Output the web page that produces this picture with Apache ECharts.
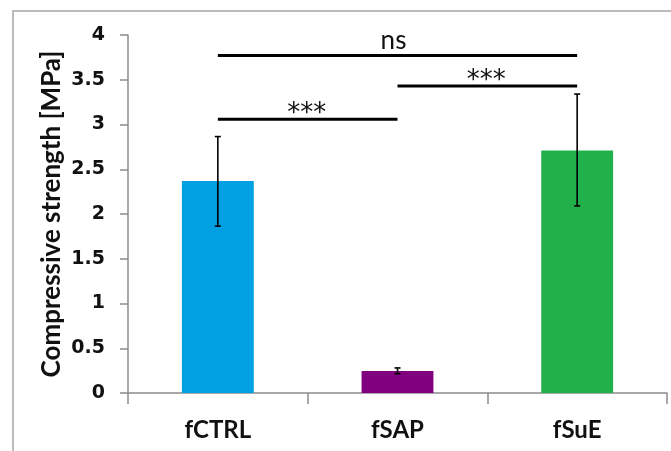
<!DOCTYPE html>
<html>
<head>
<meta charset="utf-8">
<script src="https://cdn.jsdelivr.net/npm/echarts@6/dist/echarts.min.js"></script>
<style>html,body{margin:0;padding:0;background:#fff;}#c{width:671px;height:451px;}</style>
</head>
<body>
<div id="c"></div>
<script>
const categories = ['fCTRL', 'fSAP', 'fSuE'];
const meanValues = [2.37, 0.245, 2.71];
const errLow = [1.865, 0.215, 2.09];
const errHigh = [2.865, 0.28, 3.34];
const barColors = ['#00A0E3', '#800080', '#22B04B'];
const yTicks = [0, 0.5, 1, 1.5, 2, 2.5, 3, 3.5, 4];
const bracketFrom = [0, 1, 0];
const bracketTo = [1, 2, 2];
const bracketY = [3.06, 3.43, 3.77];
const bracketLabel = ['***', '***', 'ns'];

const FONT = 'Lato, "Open Sans", sans-serif';
const chart = echarts.init(document.getElementById('c'), null, {renderer: 'canvas'});
chart.setOption({
  animation: false,
  backgroundColor: '#fff',
  graphic: [{
    type: 'rect', shape: {x: 13, y: 11, width: 720, height: 520},
    style: {fill: 'none', stroke: '#a6a6a6', lineWidth: 1.5}, silent: true
  }],
  grid: {left: 128, right: 4, top: 35, bottom: 58},
  xAxis: {
    type: 'category', data: categories,
    axisLine: {lineStyle: {color: '#8c8c8c', width: 1.5}},
    axisTick: {show: true, length: 11, lineStyle: {color: '#8c8c8c', width: 1.5}},
    axisLabel: {fontFamily: FONT, fontWeight: 'bold', fontSize: 24, color: '#111', margin: 25}
  },
  yAxis: {
    type: 'value', min: yTicks[0], max: yTicks[yTicks.length - 1], interval: 0.5,
    name: 'Compressive strength [MPa]', nameLocation: 'middle', nameGap: 63,
    nameMoveOverlap: false,
    nameTextStyle: {fontFamily: FONT, fontWeight: 'bold', fontSize: 26, color: '#111'},
    axisLine: {show: true, lineStyle: {color: '#8c8c8c', width: 1.5}},
    axisTick: {show: true, length: 8, lineStyle: {color: '#8c8c8c', width: 1.5}},
    splitLine: {show: false},
    axisLabel: {fontFamily: '"DejaVu Sans", sans-serif', fontWeight: 'bold', fontSize: 19, color: '#111', margin: 23}
  },
  series: [
    {
      type: 'bar', barWidth: '40%',
      data: meanValues.map((v, i) => ({value: v, itemStyle: {color: barColors[i]}})),
      z: 2
    },
    {
      type: 'custom', z: 10,
      data: categories.map((c, i) => [i, errLow[i], errHigh[i]]),
      encode: {x: 0, y: [1, 2]},
      renderItem: function (params, api) {
        const x = api.value(0);
        const lo = api.coord([x, api.value(1)]);
        const hi = api.coord([x, api.value(2)]);
        const w = 3;
        const st = {stroke: '#000', lineWidth: 1.6};
        return {type: 'group', children: [
          {type: 'line', shape: {x1: lo[0], y1: lo[1], x2: hi[0], y2: hi[1]}, style: st},
          {type: 'line', shape: {x1: lo[0] - w, y1: lo[1], x2: lo[0] + w, y2: lo[1]}, style: st},
          {type: 'line', shape: {x1: hi[0] - w, y1: hi[1], x2: hi[0] + w, y2: hi[1]}, style: st}
        ]};
      }
    },
    {
      type: 'custom', z: 11,
      data: bracketFrom.map((f, i) => [f, bracketTo[i], bracketY[i]]),
      encode: {x: [0, 1], y: 2},
      renderItem: function (params, api) {
        const p1 = api.coord([api.value(0), api.value(2)]);
        const p2 = api.coord([api.value(1), api.value(2)]);
        const lab = bracketLabel[params.dataIndex];
        const isNs = lab === 'ns';
        const txt = isNs ? {
            text: lab, x: (p1[0] + p2[0]) / 2 - 4, y: p1[1] - 2,
            align: 'center', verticalAlign: 'bottom',
            font: 'normal 26px ' + FONT, fill: '#111'
          } : {
            text: lab, x: (p1[0] + p2[0]) / 2 - 1, y: p1[1] - 5,
            align: 'center', verticalAlign: 'middle',
            font: 'normal 26px "DejaVu Sans", sans-serif', fill: '#111'
          };
        return {type: 'group', children: [
          {type: 'line', shape: {x1: p1[0], y1: p1[1], x2: p2[0], y2: p2[1]}, style: {stroke: '#000', lineWidth: 3}},
          {type: 'text', style: txt}
        ]};
      }
    }
  ]
});
</script>
</body>
</html>
